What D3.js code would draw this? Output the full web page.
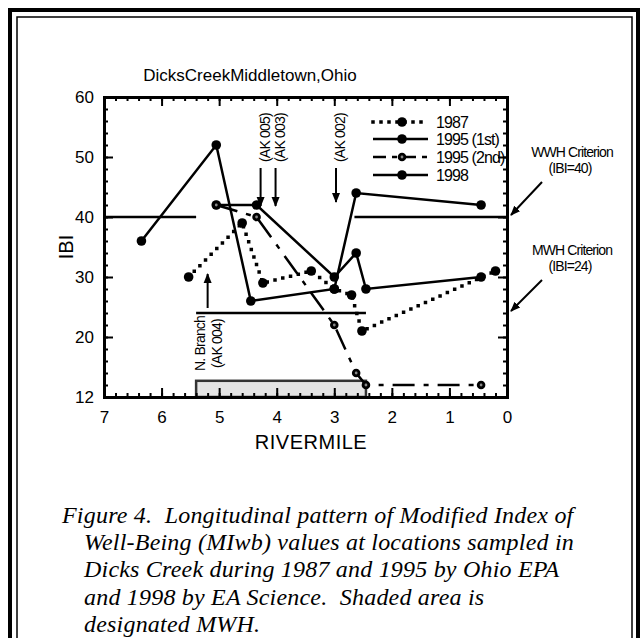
<!DOCTYPE html>
<html lang="en">
<head>
    <meta charset="UTF-8">
    <title>Dicks Creek IBI</title>
    <script src="https://cdn.jsdelivr.net/npm/d3@7"></script>
    <style>
        body { margin: 0; background: white; }
        text { font-family: "Liberation Sans", Arial, sans-serif; fill: black; }
        .caption { font-family: "Liberation Serif", "Times New Roman", serif; font-style: italic; font-size: 24px; letter-spacing: 0.2px; }
        .axis path, .axis line { stroke: black; }
        .axis path { stroke-width: 3; }
        .axis line { stroke-width: 2; }
    </style>
</head>
<body>
<svg height="638" width="640"></svg>

<script>
    // river mile / IBI values
    const rm1987 = [5.53, 4.6, 4.24, 3.4, 3.0, 2.7, 2.52, 0.2];
    const ibi1987 = [30, 39, 29, 31, 28, 27, 21, 31];
    const rm1995a = [5.05, 4.35, 3.0, 2.62, 2.45, 0.45];
    const ibi1995a = [42, 42, 30, 34, 28, 30];
    const rm1995b = [5.05, 4.35, 3.0, 2.62, 2.45, 0.45];
    const ibi1995b = [42, 40, 22, 14, 12, 12];
    const rm1998 = [6.35, 5.05, 4.45, 3.0, 2.62, 0.45];
    const ibi1998 = [36, 52, 26, 28, 44, 42];

    const legendLabels = ["1987", "1995 (1st)", "1995 (2nd)", "1998"];
    const xTicks = [7, 6, 5, 4, 3, 2, 1, 0];
    const yTicks = [10, 20, 30, 40, 50, 60];
    const yTickLabels = ["12", "20", "30", "40", "50", "60"];

    const wwh = 40, mwh = 24;
    const mwhZone = [5.4, 2.45, 12.7];   // from rm, to rm, top IBI
    const sites = [["(AK 005)", 4.28], ["(AK 003)", 4.02], ["(AK 002)", 2.97]];

    const svg = d3.select("svg");
    const L = 104, R = 507, T = 97, B = 397;

    const x = d3.scaleLinear().domain([7, 0]).range([L, R]);
    const y = d3.scaleLinear().domain([10, 60]).range([B, T]);

    // frame (bottom edge runs off the page)
    svg.append("rect").attr("x", 10).attr("y", 10).attr("width", 628).attr("height", 640)
        .attr("fill", "none").attr("stroke", "black").attr("stroke-width", 4);
    svg.append("rect").attr("x", 17).attr("y", 17).attr("width", 615).attr("height", 640)
        .attr("fill", "none").attr("stroke", "black").attr("stroke-width", 1.5);

    // shaded MWH area
    svg.append("rect")
        .attr("x", x(mwhZone[0])).attr("y", y(mwhZone[2]))
        .attr("width", x(mwhZone[1]) - x(mwhZone[0]))
        .attr("height", y(10) - y(mwhZone[2]))
        .attr("fill", "#e4e4e4").attr("stroke", "#333").attr("stroke-width", 2.5);

    // axes, ticks pointing in
    const xMinor = d3.range(0, 7.01, 0.2);
    const yMinor = d3.range(10, 60.1, 2);
    const addAxis = (axis, tr) => svg.append("g").attr("class", "axis").attr("transform", tr).call(axis);

    addAxis(d3.axisBottom(x).tickValues(xMinor).tickSize(-4).tickFormat(""), `translate(0,${B})`);
    addAxis(d3.axisBottom(x).tickValues(xTicks).tickSize(-9).tickPadding(14).tickFormat(d3.format("d")), `translate(0,${B})`);
    addAxis(d3.axisTop(x).tickValues(xMinor).tickSize(-4).tickFormat(""), `translate(0,${T})`);
    addAxis(d3.axisTop(x).tickValues(xTicks).tickSize(-9).tickFormat(""), `translate(0,${T})`);
    addAxis(d3.axisLeft(y).tickValues(yMinor).tickSize(-4).tickFormat(""), `translate(${L},0)`);
    addAxis(d3.axisLeft(y).tickValues(yTicks).tickSize(-9).tickPadding(10)
        .tickFormat((d, i) => yTickLabels[i]), `translate(${L},0)`);
    addAxis(d3.axisRight(y).tickValues(yMinor).tickSize(-4).tickFormat(""), `translate(${R},0)`);
    addAxis(d3.axisRight(y).tickValues(yTicks).tickSize(-9).tickFormat(""), `translate(${R},0)`);
    svg.selectAll(".axis text").style("font-size", "17px").attr("fill", "black");
    svg.selectAll(".axis path").attr("stroke-linecap", "square");

    // criterion lines
    const crit = [[wwh, 7, 5.4], [wwh, 2.65, 0], [mwh, 5.4, 2.45]];
    svg.selectAll(".crit").data(crit).enter().append("line")
        .attr("x1", d => x(d[1])).attr("x2", d => x(d[2]))
        .attr("y1", d => y(d[0])).attr("y2", d => y(d[0]))
        .attr("stroke", "black").attr("stroke-width", 2.5);

    // series
    const styles = [
        {rm: rm1987, ibi: ibi1987, dash: "0,8", w: 3.5, cap: "square", hollow: false},
        {rm: rm1995a, ibi: ibi1995a, dash: null, w: 2.5, cap: "butt", hollow: false},
        {rm: rm1995b, ibi: ibi1995b, dash: "22,9,5,9", w: 2.5, cap: "butt", hollow: true},
        {rm: rm1998, ibi: ibi1998, dash: null, w: 2.5, cap: "butt", hollow: false}
    ];
    const line = d3.line().x(d => x(d[0])).y(d => y(d[1]));

    styles.forEach(function(s) {
        const pts = s.rm.map((r, i) => [r, s.ibi[i]]);
        svg.append("path").datum(pts).attr("d", line)
            .attr("fill", "none").attr("stroke", "black")
            .attr("stroke-width", s.w).attr("stroke-linecap", s.cap)
            .attr("stroke-dasharray", s.dash);
        drawMarks(svg, pts.map(p => [x(p[0]), y(p[1])]), s.hollow);
    });

    function drawMarks(g, pts, hollow) {
        g.selectAll(null).data(pts).enter().append("circle")
            .attr("cx", d => d[0]).attr("cy", d => d[1]).attr("r", hollow ? 4.3 : 4.8)
            .attr("fill", "black");
        if (hollow) {
            g.selectAll(null).data(pts).enter().append("circle")
                .attr("cx", d => d[0]).attr("cy", d => d[1]).attr("r", 1.4)
                .attr("fill", "#888");
        }
    }

    // legend
    const legY = [122, 139, 157, 175];
    styles.forEach(function(s, i) {
        svg.append("line").attr("x1", 373).attr("x2", 428).attr("y1", legY[i]).attr("y2", legY[i])
            .attr("stroke", "black").attr("stroke-width", s.w)
            .attr("stroke-linecap", s.cap).attr("stroke-dasharray", i === 2 ? "13,6,5,6" : s.dash);
        drawMarks(svg, [[402, legY[i]]], s.hollow);
        svg.append("text").attr("x", 436).attr("y", legY[i] + 6)
            .style("font-size", "16px").style("letter-spacing", "-0.9px").text(legendLabels[i]);
    });

    // arrows
    svg.append("defs").append("marker").attr("id", "ah")
        .attr("viewBox", "0 0 10 10").attr("refX", 9).attr("refY", 5)
        .attr("markerWidth", 5).attr("markerHeight", 5).attr("orient", "auto")
        .append("path").attr("d", "M0,1 L10,5 L0,9 Z").attr("fill", "black");
    const arrow = (x1, y1, x2, y2) => svg.append("line")
        .attr("x1", x1).attr("y1", y1).attr("x2", x2).attr("y2", y2)
        .attr("stroke", "black").attr("stroke-width", 2).attr("marker-end", "url(#ah)");

    sites.forEach(function(s) {
        arrow(x(s[1]), 168, x(s[1]), s[1] < 3.5 ? 202 : 206);
        svg.append("text").attr("transform", `translate(${x(s[1]) + 9},162) rotate(-90)`)
            .style("font-size", "14px").style("letter-spacing", "-0.8px").text(s[0]);
    });

    arrow(x(5.2), 308, x(5.2), 274);
    svg.append("text").attr("transform", `translate(${x(5.4) + 9},371) rotate(-90)`)
        .style("font-size", "14px").style("letter-spacing", "-0.8px").text("N. Branch");
    svg.append("text").attr("transform", `translate(${x(5.4) + 26},368) rotate(-90)`)
        .style("font-size", "14px").style("letter-spacing", "-0.8px").text("(AK 004)");

    // criterion labels
    const critLabels = [["WWH Criterion", "(IBI=40)", 157, y(wwh)], ["MWH Criterion", "(IBI=24)", 255, y(mwh)]];
    critLabels.forEach(function(c) {
        svg.append("text").attr("x", 572).attr("y", c[2]).attr("text-anchor", "middle")
            .style("font-size", "14px").style("letter-spacing", "-0.9px").text(c[0]);
        svg.append("text").attr("x", 570).attr("y", c[2] + 16).attr("text-anchor", "middle")
            .style("font-size", "14px").style("letter-spacing", "-0.9px").text(c[1]);
        arrow(542, c[2] + 25, 511, c[3] - 2);
    });

    // titles
    svg.append("text").attr("x", 250).attr("y", 81).attr("text-anchor", "middle")
        .style("font-size", "17px").text("DicksCreekMiddletown,Ohio");
    svg.append("text").attr("transform", `translate(73,${(T + B) / 2}) rotate(-90)`)
        .attr("text-anchor", "middle").style("font-size", "20px").text("IBI");
    svg.append("text").attr("x", 311).attr("y", 449).attr("text-anchor", "middle")
        .style("font-size", "20px").style("letter-spacing", "0.5px").text("RIVERMILE");

    // caption
    const capLines = [
        ["Figure 4.  Longitudinal pattern of Modified Index of", 62],
        ["Well-Being (MIwb) values at locations sampled in", 84],
        ["Dicks Creek during 1987 and 1995 by Ohio EPA", 84],
        ["and 1998 by EA Science.  Shaded area is", 84],
        ["designated MWH.", 84]
    ];
    svg.selectAll(".caption").data(capLines).enter().append("text")
        .attr("class", "caption").attr("xml:space", "preserve")
        .style("white-space", "pre")
        .attr("x", d => d[1]).attr("y", (d, i) => 523 + i * 27.2).text(d => d[0]);
</script>

</body>
</html>
